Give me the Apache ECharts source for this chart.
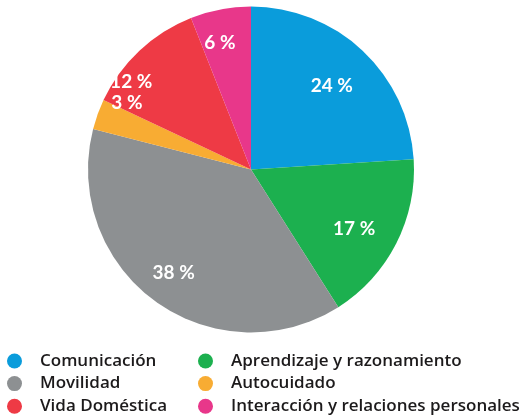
<!DOCTYPE html>
<html><head><meta charset="utf-8">
<script src="https://cdn.jsdelivr.net/npm/echarts@6/dist/echarts.min.js"></script>
<style>html,body{margin:0;padding:0;background:#fff}#c{width:528px;height:416px}</style>
</head><body><div id="c"></div>
<script>
const categories = ['Comunicación', 'Aprendizaje y razonamiento', 'Movilidad', 'Autocuidado', 'Vida Doméstica', 'Interacción y relaciones personales'];
const values = [24, 17, 38, 3, 12, 6];
const colors = ['#0a9cdb', '#1cb04f', '#8d9092', '#f8ac33', '#ee3a45', '#e8378a'];
const labelOffsets = [[0, 2], [-2, 6], [-8, 8], [-13, -27], [-39, -2], [-9, -11]];
const legendCol1 = [categories[0], categories[2], categories[4]];
const legendCol2 = [categories[1], categories[3], categories[5]];

const chart = echarts.init(document.getElementById('c'), null, {renderer: 'canvas'});
const center = [251, 169.5];
const R = 163;
const legendText = {fontFamily: 'Open Sans', fontSize: 17, fontWeight: 600, color: '#1c1a1b', lineHeight: 15, padding: [0, 0, 0, 13]};
const baseLegend = {orient: 'vertical', icon: 'circle', padding: 0, itemWidth: 15, itemHeight: 15, itemGap: 5.6, height: 80, textStyle: legendText, selectedMode: false};
chart.setOption({
  animation: false,
  color: colors,
  legend: [
    Object.assign({}, baseLegend, {left: 7, top: 352.5, data: legendCol1}),
    Object.assign({}, baseLegend, {left: 198, top: 352.5, data: legendCol2})
  ],
  series: [
    {
      type: 'pie', center: center, radius: [0, R], startAngle: 90, clockwise: true,
      label: {show: false}, labelLine: {show: false}, silent: true,
      data: categories.map((n, i) => ({name: n, value: values[i], itemStyle: {color: colors[i]}}))
    },
    {
      type: 'pie', center: center, radius: [0, 230], startAngle: 90, clockwise: true, silent: true,
      itemStyle: {color: 'rgba(0,0,0,0)'}, labelLine: {show: false},
      label: {show: true, position: 'inside', formatter: p => p.value + ' %', color: '#fff',
        fontFamily: 'Lato', fontWeight: 'bold', fontSize: 19},
      data: categories.map((n, i) => ({name: n, value: values[i], label: {offset: labelOffsets[i]}}))
    }
  ]
});
</script>
</body></html>
